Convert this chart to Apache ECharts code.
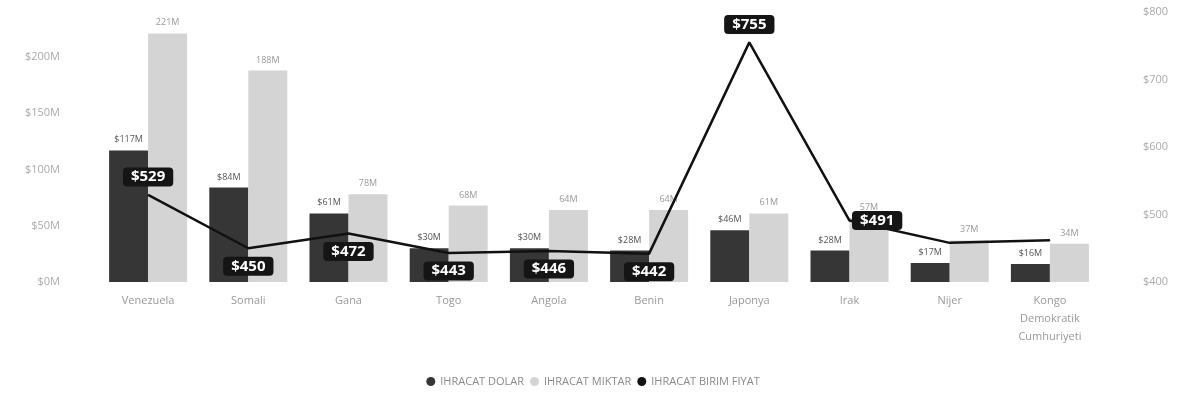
<!DOCTYPE html>
<html>
<head>
<meta charset="utf-8">
<script src="https://cdn.jsdelivr.net/npm/echarts@6/dist/echarts.min.js"></script>
<style>
html,body{margin:0;padding:0;background:#fff;}
#chart{width:1186px;height:405px;}
</style>
</head>
<body>
<div id="chart"></div>
<script>
const categories = ['Venezuela','Somali','Gana','Togo','Angola','Benin','Japonya','Irak','Nijer','Kongo Demokratik Cumhuriyeti'];
const ihracatDolar = [117, 84, 61, 30, 30, 28, 46, 28, 17, 16];
const ihracatMiktar = [221, 188, 78, 68, 64, 64, 61, 57, 37, 34];
const birimFiyat = [529, 450, 472, 443, 446, 442, 755, 491, 458, 462];
const leftTicks = ['$0M','$50M','$100M','$150M','$200M'];
const rightTicks = ['$400','$500','$600','$700','$800'];

const FONT = 'Open Sans';
const pricePos = ['top','bottom','bottom','bottom','bottom','bottom','top','right',null,null];

const chart = echarts.init(document.getElementById('chart'));
chart.setOption({
  animation: false,
  textStyle: {fontFamily: FONT},
  grid: {left: 98, right: 86, top: 12, bottom: 123},
  legend: {
    top: 371, left: 'center',
    itemWidth: 9, itemHeight: 9, itemGap: 6,
    icon: 'circle',
    textStyle: {color: '#8a8a8a', fontSize: 11, fontFamily: FONT},
    data: ['IHRACAT DOLAR','IHRACAT MIKTAR','IHRACAT BIRIM FIYAT']
  },
  xAxis: {
    type: 'category', data: categories,
    axisLine: {show: false}, axisTick: {show: false},
    axisLabel: {color: '#999', fontSize: 11, margin: 10, lineHeight: 18,
      formatter: v => v.split(' ').join('\n')}
  },
  yAxis: [
    {type: 'value', min: 0, max: 240, interval: 50,
      splitLine: {show: false}, axisLine: {show: false}, axisTick: {show: false},
      axisLabel: {color: '#aaa', fontSize: 11, margin: 38, showMaxLabel: false,
        formatter: v => (v % 50 === 0 && v <= 200) ? leftTicks[v / 50] : ''}},
    {type: 'value', min: 400, max: 800, interval: 100, position: 'right',
      splitLine: {show: false}, axisLine: {show: false}, axisTick: {show: false},
      axisLabel: {color: '#aaa', fontSize: 11, margin: 43,
        formatter: v => rightTicks[(v - 400) / 100]}}
  ],
  series: [
    {name: 'IHRACAT DOLAR', type: 'bar', data: ihracatDolar, barWidth: 39, barGap: '0%',
      itemStyle: {color: '#363636'},
      label: {show: true, position: 'top', distance: 6, color: '#555', fontSize: 9,
        formatter: p => '$' + p.value + 'M'}},
    {name: 'IHRACAT MIKTAR', type: 'bar', data: ihracatMiktar, barWidth: 39, barGap: '0%',
      itemStyle: {color: '#d4d4d4'},
      label: {show: true, position: 'top', distance: 6, color: '#999', fontSize: 9,
        formatter: p => p.value + 'M'}},
    {name: 'IHRACAT BIRIM FIYAT', type: 'line', yAxisIndex: 1,
      data: birimFiyat.map((v, i) => ({
        value: v,
        label: pricePos[i] ? {show: true, position: pricePos[i], distance: pricePos[i] === 'right' ? 2 : 8} : {show: false}
      })),
      symbol: 'circle', symbolSize: 1, showSymbol: true,
      lineStyle: {color: '#111', width: 2.5},
      itemStyle: {color: '#111'},
      label: {show: true, color: '#fff', fontWeight: 'bold', fontSize: 15,
        backgroundColor: '#151515', borderRadius: 4, padding: [2, 8],
        formatter: p => '$' + p.value},
      labelLayout: {hideOverlap: false},
      z: 5}
  ]
});
</script>
</body>
</html>
